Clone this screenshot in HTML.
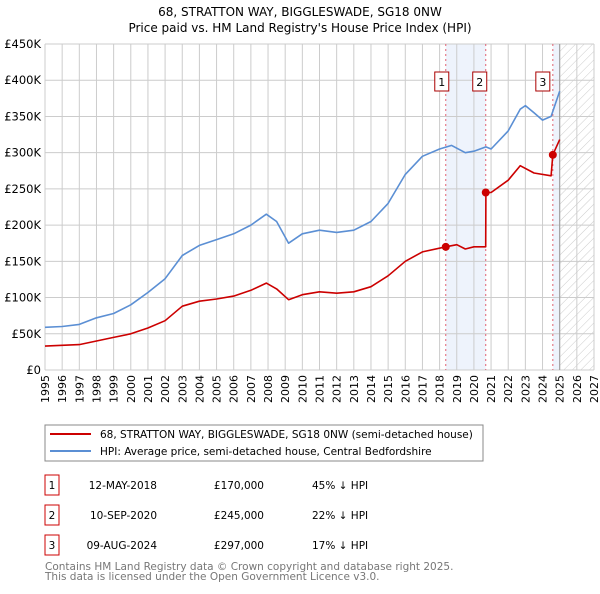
<!DOCTYPE html>
<html><head><meta charset="utf-8"><style>
body{margin:0;background:#fff;font-family:"DejaVu Sans","Liberation Sans",sans-serif;}
svg text{font-family:"DejaVu Sans","Liberation Sans",sans-serif;}
</style></head><body>
<svg id="c" width="600" height="590" xmlns="http://www.w3.org/2000/svg">
<defs><pattern id="hatch" width="6" height="6" patternUnits="userSpaceOnUse" patternTransform="rotate(45)"><line x1="0" y1="0" x2="0" y2="6" stroke="#ccc" stroke-width="1"/></pattern></defs>
<text x="300" y="16" text-anchor="middle" font-size="12">68, STRATTON WAY, BIGGLESWADE, SG18 0NW</text>
<text x="300" y="32" text-anchor="middle" font-size="12">Price paid vs. HM Land Registry's House Price Index (HPI)</text>
<g id="plot"></g>
<rect x="45" y="425" width="438" height="36" fill="#fff" stroke="#888"/>
<line x1="50" y1="434" x2="91" y2="434" stroke="#cc0000" stroke-width="2"/>
<text x="100" y="438" font-size="10.5">68, STRATTON WAY, BIGGLESWADE, SG18 0NW (semi-detached house)</text>
<line x1="50" y1="451" x2="91" y2="451" stroke="#5b8fd4" stroke-width="2"/>
<text x="100" y="455" font-size="10.5">HPI: Average price, semi-detached house, Central Bedfordshire</text>
<g font-size="10.5">
<rect x="45" y="475" width="14" height="20" fill="#fff" stroke="#c00"/><text x="52" y="489" text-anchor="middle">1</text>
<text x="157" y="489" text-anchor="end">12-MAY-2018</text>
<text x="264" y="489" text-anchor="end">£170,000</text>
<text x="312" y="489">45% ↓ HPI</text>
<rect x="45" y="505" width="14" height="20" fill="#fff" stroke="#c00"/><text x="52" y="519" text-anchor="middle">2</text>
<text x="157" y="519" text-anchor="end">10-SEP-2020</text>
<text x="264" y="519" text-anchor="end">£245,000</text>
<text x="312" y="519">22% ↓ HPI</text>
<rect x="45" y="535" width="14" height="20" fill="#fff" stroke="#c00"/><text x="52" y="549" text-anchor="middle">3</text>
<text x="157" y="549" text-anchor="end">09-AUG-2024</text>
<text x="264" y="549" text-anchor="end">£297,000</text>
<text x="312" y="549">17% ↓ HPI</text>
</g>
<text x="45" y="570" font-size="10.5" fill="#777">Contains HM Land Registry data © Crown copyright and database right 2025.</text>
<text x="45" y="580" font-size="10.5" fill="#777">This data is licensed under the Open Government Licence v3.0.</text>
</svg>
<script>
const hpiYears=[1995,1996,1997,1998,1999,2000,2001,2002,2003,2004,2005,2006,2007,2007.9,2008.5,2009.2,2010,2011,2012,2013,2014,2015,2016,2017,2018,2018.7,2019.5,2020,2020.7,2021,2022,2022.7,2023,2023.5,2024,2024.5,2025];
const hpiValues=[59,60,63,72,78,90,107,126,158,172,180,188,200,215,205,175,188,193,190,193,205,230,270,295,305,310,300,302,308,305,330,360,365,355,345,350,385];
const priceYears=[1995,1997,1998,1999,2000,2001,2002,2003,2004,2005,2006,2007,2007.9,2008.5,2009.2,2010,2011,2012,2013,2014,2015,2016,2017,2018.36,2019,2019.5,2020,2020.69,2020.7,2021,2022,2022.7,2023.5,2024.5,2024.6,2025];
const priceValues=[33,35,40,45,50,58,68,88,95,98,102,110,120,112,97,104,108,106,108,115,130,150,163,170,173,167,170,170,245,245,262,282,272,268,297,318];
const saleYears=[2018.36,2020.69,2024.6];
const saleValues=[170,245,297];
const yTicks=[0,50,100,150,200,250,300,350,400,450];
const xTicks=[1995,1996,1997,1998,1999,2000,2001,2002,2003,2004,2005,2006,2007,2008,2009,2010,2011,2012,2013,2014,2015,2016,2017,2018,2019,2020,2021,2022,2023,2024,2025,2026,2027];
const X0=45,X1=594,Y0=370,Y1=44;
const xs=y=>X0+(y-1995)/32*(X1-X0);
const ys=v=>Y0-v/450*(Y0-Y1);
const NS="http://www.w3.org/2000/svg";
const g=document.getElementById('plot');
function mk(t,a,p){const e=document.createElementNS(NS,t);for(const k in a)e.setAttribute(k,a[k]);(p||g).appendChild(e);return e;}
let e=mk('rect',{x:xs(saleYears[0]),y:Y1,width:xs(saleYears[1])-xs(saleYears[0]),height:Y0-Y1,fill:'#eef3fc'});


e=mk('rect',{x:xs(2025),y:Y1,width:X1-xs(2025),height:Y0-Y1,fill:'url(#hatch)'});


e=mk('rect',{x:xs(saleYears[2]),y:Y1,width:xs(2025)-xs(saleYears[2]),height:Y0-Y1,fill:'#eef3fc'});


yTicks.forEach(v=>{
 const l=mk('line',{x1:X0,x2:X1,y1:ys(v),y2:ys(v),stroke:'#ccc'});
 
 
 const t=mk('text',{x:X0-4,y:ys(v)+4,'text-anchor':'end','font-size':'11.5'});
 t.textContent=v===0?'£0':'£'+v+'K';
 
 
});
xTicks.forEach(y=>{
 const l=mk('line',{x1:xs(y),x2:xs(y),y1:Y1,y2:Y0,stroke:'#ccc'});
 
 
 const tx=xs(y)+4, ty=Y0+5;
 const t=mk('text',{x:tx,y:ty,'text-anchor':'end','font-size':'11',transform:'rotate(-90 '+tx+' '+ty+')'});
 t.textContent=y;
 
 
});
e=mk('line',{x1:xs(2025),x2:xs(2025),y1:Y1,y2:Y0,stroke:'#999'});


saleYears.forEach((y,i)=>{
 const l=mk('line',{x1:xs(y),x2:xs(y),y1:Y1,y2:Y0,stroke:'#e06070','stroke-dasharray':'2,3'});
 
 
});
function path(xa,va,col,name){
 const d=xa.map((x,i)=>(i?'L':'M')+xs(x).toFixed(1)+','+ys(va[i]).toFixed(1)).join('');
 const p=mk('path',{d:d,fill:'none',stroke:col,'stroke-width':1.6,'stroke-linejoin':'round'});
 
 
}
path(hpiYears,hpiValues,'#5b8fd4','hpi-line');
path(priceYears,priceValues,'#cc0000','price-line');
saleYears.forEach((y,i)=>{
 const c=mk('circle',{cx:xs(y),cy:ys(saleValues[i]),r:4,fill:'#cc0000'});
 
 
 const bx=xs(y)-(i===2?10:i===0?4:6);
 const r=mk('rect',{x:bx-7,y:72,width:14,height:19,fill:'#fff',stroke:'#a00'});
 
 
 const t=mk('text',{x:bx,y:86,'text-anchor':'middle','font-size':'11'});
 t.textContent=String(i+1);
 
 
});
</script>
</body></html>
